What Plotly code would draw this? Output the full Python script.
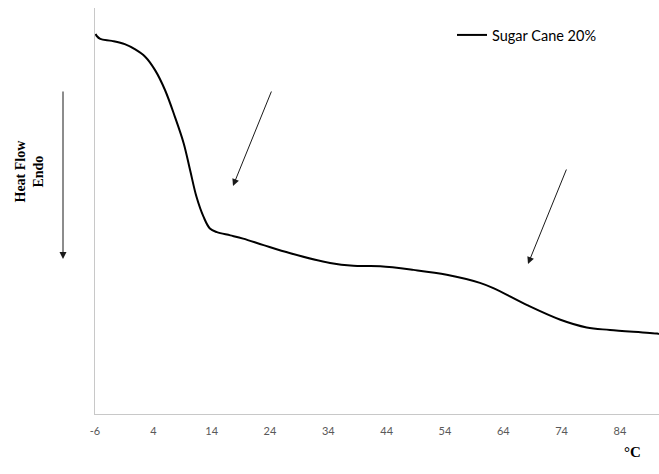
import plotly.graph_objects as go

# DSC thermogram, sugar cane 20%
temperature_c = [-5.9, -5.7, -5.1, -3.1, -0.9, 0.9, 2.6, 4.3, 6.0, 7.7, 9.2, 10.3,
                 11.4, 12.6, 13.7, 14.9, 17.2, 19.4, 22.9, 27.5, 34.3, 38.3, 42.9,
                 48.6, 54.3, 60.0, 62.3, 68.1, 73.8, 78.3, 82.3, 90.4, 90.7]
heat_flow = [93.6, 93.1, 92.4, 91.9, 91.1, 89.8, 88.0, 84.7, 79.8, 73.2, 66.7, 60.1,
             53.5, 48.6, 45.7, 44.8, 44.0, 43.2, 41.6, 39.6, 37.2, 36.5, 36.4,
             35.5, 34.3, 32.3, 31.0, 26.8, 23.2, 21.3, 20.7, 19.8, 19.7]
tick_values = [-6, 4, 14, 24, 34, 44, 54, 64, 74, 84]
tick_labels = ["-6", "4", "14", "24", "34", "44", "54", "64", "74", "84"]
series_name = "Sugar Cane 20%"

W, H = 659, 474
L, R, T, B = 95, 0, 8, 60
PW, PH = W - L - R, H - T - B


def px(x):
    return (x - L) / PW


def py(y):
    return (H - B - y) / PH


fig = go.Figure()
fig.add_trace(go.Scatter(
    x=temperature_c, y=heat_flow, mode="lines", name=series_name,
    line=dict(color="black", width=2, shape="spline", smoothing=1.0),
))

arrow = dict(xref="paper", yref="paper", axref="pixel", ayref="pixel",
             showarrow=True, arrowhead=2, arrowsize=1.4, arrowwidth=1,
             arrowcolor="#1a1a1a", text="")
annotations = [
    dict(x=px(63), y=py(259), ax=0, ay=-169, **arrow),
    dict(x=px(233), y=py(186), ax=39, ay=-96, **arrow),
    dict(x=px(528), y=py(264), ax=39, ay=-96, **arrow),
    dict(x=px(10), y=py(171), xref="paper", yref="paper", showarrow=False,
         text="<b>Heat Flow<br>Endo</b>", textangle=-90,
         font=dict(family="Liberation Serif", size=14, color="black")),
    dict(x=px(643), y=py(462), xref="paper", yref="paper", showarrow=False,
         text="<b>°C</b>",
         font=dict(family="Liberation Serif", size=15, color="black")),
]

fig.update_layout(
    width=W, height=H,
    margin=dict(l=L, r=R, t=T, b=B),
    paper_bgcolor="white", plot_bgcolor="white",
    showlegend=True,
    legend=dict(x=px(452), y=py(19), xanchor="left", yanchor="top",
                bgcolor="rgba(0,0,0,0)", itemwidth=30,
                font=dict(family="Lato", size=14.5, color="black")),
    annotations=annotations,
    xaxis=dict(range=[-6, 90.7], tickvals=tick_values, ticktext=tick_labels,
               showgrid=False, zeroline=False, showline=True,
               linecolor="#c8c8c8", linewidth=1, ticks="", ticklabelstandoff=7,
               tickfont=dict(family="Lato", size=11, color="#595959")),
    yaxis=dict(range=[0, 100], showticklabels=False, showgrid=False,
               zeroline=False, showline=True, linecolor="#c8c8c8", linewidth=1,
               ticks=""),
)

fig.write_html("out.html")
